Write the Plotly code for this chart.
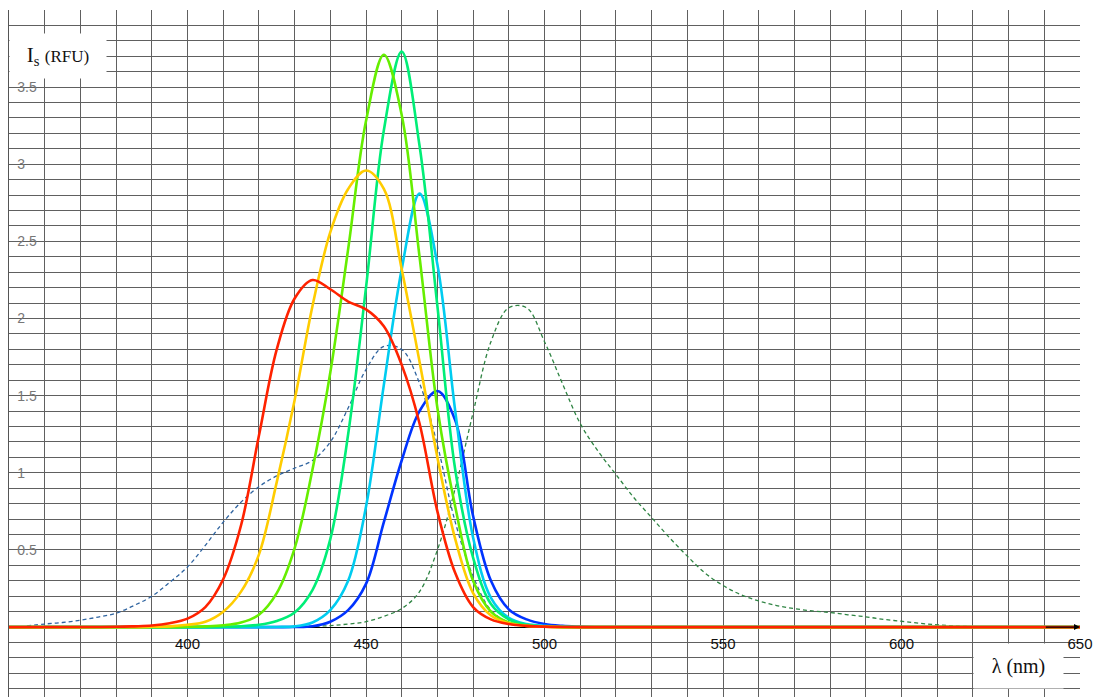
import plotly.graph_objects as go

# ---------------- data (5 nm steps) ----------------
wl_red = [350, 380, 385, 390, 395, 400, 405, 410, 415, 420, 425, 430, 435, 440, 445, 450, 455, 460, 465, 470, 475, 480, 485, 490, 495, 500, 505, 510, 515, 650]
is_red = [0, 0.002, 0.005, 0.01, 0.025, 0.055, 0.13, 0.31, 0.66, 1.24, 1.80, 2.13, 2.25, 2.19, 2.11, 2.06, 1.95, 1.70, 1.32, 0.75, 0.35, 0.13, 0.05, 0.02, 0.008, 0.003, 0.001, 0, 0, 0]

wl_yellow = [350, 385, 390, 395, 400, 405, 410, 415, 420, 425, 430, 435, 440, 445, 450, 455, 460, 465, 470, 475, 480, 485, 490, 495, 500, 505, 510, 650]
is_yellow = [0, 0, 0.002, 0.005, 0.015, 0.035, 0.10, 0.23, 0.47, 0.94, 1.47, 2.08, 2.56, 2.84, 2.96, 2.84, 2.32, 1.72, 1.10, 0.57, 0.22, 0.075, 0.025, 0.008, 0.003, 0, 0, 0]

wl_ygreen = [350, 395, 400, 405, 410, 415, 420, 425, 430, 435, 440, 445, 450, 455, 460, 465, 470, 475, 480, 485, 490, 495, 500, 505, 510, 650]
is_ygreen = [0, 0, 0.002, 0.005, 0.012, 0.03, 0.08, 0.22, 0.51, 1.02, 1.65, 2.45, 3.28, 3.71, 3.32, 2.40, 1.42, 0.78, 0.30, 0.10, 0.03, 0.01, 0.004, 0, 0, 0]

wl_sgreen = [350, 405, 410, 415, 420, 425, 430, 435, 440, 445, 450, 455, 460, 465, 470, 475, 480, 485, 490, 495, 500, 505, 510, 650]
is_sgreen = [0, 0, 0.002, 0.005, 0.015, 0.04, 0.095, 0.24, 0.57, 1.25, 2.20, 3.22, 3.73, 3.12, 2.08, 1.02, 0.45, 0.15, 0.05, 0.015, 0.006, 0, 0, 0]

wl_cyan = [350, 420, 425, 430, 435, 440, 445, 450, 455, 460, 465, 470, 475, 480, 485, 490, 495, 500, 505, 510, 515, 650]
is_cyan = [0, 0, 0.001, 0.005, 0.03, 0.11, 0.30, 0.78, 1.57, 2.32, 2.81, 2.35, 1.40, 0.58, 0.19, 0.06, 0.02, 0.008, 0.002, 0, 0, 0]

wl_blue = [350, 425, 430, 435, 440, 445, 450, 455, 460, 465, 470, 475, 480, 485, 490, 495, 500, 505, 510, 515, 520, 650]
is_blue = [0, 0, 0.001, 0.006, 0.035, 0.11, 0.28, 0.68, 1.08, 1.40, 1.53, 1.34, 0.72, 0.30, 0.115, 0.05, 0.02, 0.008, 0.003, 0, 0, 0]

wl_dblue = [355, 360, 365, 370, 375, 380, 385, 390, 395, 400, 405, 410, 415, 420, 425, 430, 435, 440, 445, 450, 455, 460, 465, 470, 475, 480, 485, 490, 495, 500]
is_dblue = [0.008, 0.02, 0.03, 0.045, 0.065, 0.09, 0.14, 0.20, 0.29, 0.39, 0.53, 0.68, 0.81, 0.91, 0.98, 1.03, 1.08, 1.20, 1.42, 1.67, 1.82, 1.80, 1.58, 1.18, 0.68, 0.33, 0.11, 0.03, 0.01, 0.003]

wl_dgreen = [430, 435, 440, 445, 450, 455, 460, 465, 470, 475, 480, 485, 490, 495, 500, 505, 510, 515, 520, 525, 530, 535, 540, 545, 550, 555, 560, 565, 570, 575, 580, 585, 590, 595, 600, 605, 610, 615, 620]
is_dgreen = [0.002, 0.005, 0.01, 0.02, 0.035, 0.07, 0.12, 0.23, 0.50, 0.90, 1.39, 1.85, 2.07, 2.07, 1.85, 1.58, 1.32, 1.14, 0.99, 0.84, 0.71, 0.58, 0.46, 0.35, 0.27, 0.21, 0.17, 0.14, 0.12, 0.105, 0.095, 0.08, 0.067, 0.05, 0.038, 0.025, 0.015, 0.007, 0.003]

x_ticks = list(range(350, 651, 10))
x_labels = [str(v) if (v % 50 == 0 and v != 350) else "" for v in x_ticks]
y_ticks = [round(-0.4 + 0.1 * i, 1) for i in range(45)]
y_label_map = {0.5: "0.5", 1.0: "1", 1.5: "1.5", 2.0: "2", 2.5: "2.5", 3.0: "3", 3.5: "3.5"}
y_labels = [y_label_map.get(v, "") for v in y_ticks]

# ---------------- figure ----------------
fig = go.Figure()

def add(xs, ys, color, width=2.6, dash=None):
    fig.add_trace(go.Scatter(
        x=xs, y=ys, mode="lines",
        line=dict(color=color, width=width, shape="spline", smoothing=1.0,
                  dash=dash if dash else "solid"),
        hoverinfo="skip", showlegend=False))

add(wl_dblue, is_dblue, "#2f64a0", 1.3, "4px,3px")
add(wl_dgreen, is_dgreen, "#2f8443", 1.3, "4px,3px")
add(wl_blue, is_blue, "#0033ff")
add(wl_cyan, is_cyan, "#00ccf0")
add(wl_sgreen, is_sgreen, "#00ee77")
add(wl_ygreen, is_ygreen, "#66ee00")
add(wl_yellow, is_yellow, "#ffcc00")
add(wl_red, is_red, "#ff2200")

grid_col = "#606060"
ymin, ymax = -0.453, 4.0
fig.update_layout(
    width=1093, height=697,
    margin=dict(l=9, r=13, t=10, b=0, autoexpand=False),
    paper_bgcolor="white", plot_bgcolor="white",
    xaxis=dict(
        range=[350, 650], tickvals=x_ticks, ticktext=x_labels,
        showgrid=True, gridcolor=grid_col, gridwidth=1.3,
        zeroline=False, showline=False, ticks="", automargin=False,
        anchor="free", position=(0 - ymin) / (ymax - ymin),
        ticklabelstandoff=6,
        tickfont=dict(family="Liberation Sans, Arial", size=15, color="#111111"),
    ),
    yaxis=dict(
        range=[ymin, ymax], tickvals=y_ticks, ticktext=y_labels,
        showgrid=True, gridcolor=grid_col, gridwidth=1.3,
        zeroline=True, zerolinecolor="#000000", zerolinewidth=1.2,
        showline=True, linecolor="#555555", linewidth=1.2, automargin=False,
        ticks="", ticklabelposition="inside", ticklabelstandoff=8,
        tickfont=dict(family="Liberation Sans, Arial", size=14, color="#777777"),
    ),
)

# axis arrow at the end of the x axis
fig.add_annotation(x=650, y=0, ax=640, ay=0, xref="x", yref="y", axref="x", ayref="y",
                   text="", showarrow=True, arrowhead=2, arrowsize=1, arrowwidth=1.2,
                   arrowcolor="#000000")

# axis titles in white boxes
fig.add_annotation(xref="paper", yref="paper", x=0, y=1 - 23 / 687,
                   xanchor="left", yanchor="top", width=96, height=44, borderpad=0,
                   bgcolor="white", showarrow=False, align="center", valign="middle",
                   text="I<sub>s</sub> <span style='font-size:17px'>(RFU)</span>",
                   font=dict(family="Liberation Serif, Times New Roman", size=21, color="#111111"))
fig.add_annotation(xref="paper", yref="paper", x=(973 - 9) / 1071, y=1 - 633 / 687,
                   xanchor="left", yanchor="top", width=89, height=44, borderpad=0,
                   bgcolor="white", showarrow=False, align="center", valign="middle",
                   text="λ (nm)",
                   font=dict(family="Liberation Serif, Times New Roman", size=20, color="#111111"))

fig.write_html(
    "out.html",
    config={"displayModeBar": False},
    post_script="document.body.style.margin='0';document.body.style.overflow='hidden';",
)
